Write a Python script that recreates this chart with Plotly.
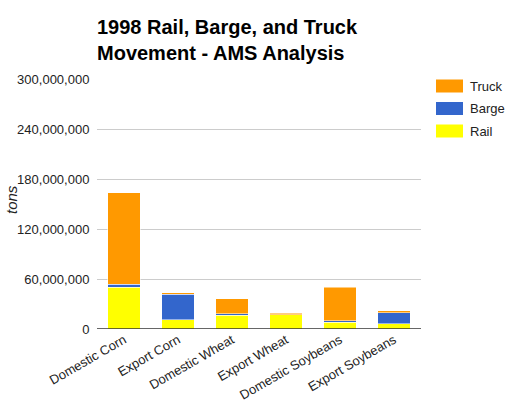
import plotly.graph_objects as go

categories = ["Domestic Corn", "Export Corn", "Domestic Wheat", "Export Wheat",
              "Domestic Soybeans", "Export Soybeans"]
rail = [50_000_000, 11_000_000, 16_500_000, 17_000_000, 8_200_000, 6_200_000]
barge = [3_500_000, 30_500_000, 1_800_000, 400_000, 2_000_000, 13_500_000]
truck = [110_000_000, 2_000_000, 18_000_000, 1_600_000, 40_000_000, 2_400_000]

series_names = ["Rail", "Barge", "Truck"]
series_colors = ["#ffff00", "#3366cc", "#ff9900"]
series_values = [rail, barge, truck]

tick_vals = [0, 60_000_000, 120_000_000, 180_000_000, 240_000_000, 300_000_000]

fig = go.Figure()
for name, color, vals in zip(series_names, series_colors, series_values):
    fig.add_trace(go.Bar(
        x=categories, y=vals, name=name,
        marker=dict(color=color, line=dict(color="white", width=0.5)),
    ))

FONT = "Liberation Sans, Arial, sans-serif"

fig.update_layout(
    barmode="stack",
    bargap=0.39,
    width=519, height=405,
    margin=dict(l=97, r=98, t=79, b=76, autoexpand=False),
    paper_bgcolor="white", plot_bgcolor="white",
    showlegend=False,
    font=dict(family=FONT, size=13, color="#222222"),
    title=dict(
        text="<b>1998 Rail, Barge, and Truck<br>Movement - AMS Analysis</b>",
        x=97 / 519, xanchor="left", xref="container",
        y=1 - 34 / 405, yanchor="top", yref="container",
        font=dict(family=FONT, size=20, color="#000000"),
    ),
    yaxis=dict(
        range=[0, 300_000_000], tickvals=tick_vals, tickformat=",d",
        showgrid=True, gridcolor="#cccccc", gridwidth=1,
        zeroline=False, showline=False,
        ticks="outside", ticklen=4, tickcolor="rgba(0,0,0,0)", automargin=False,
        tickfont=dict(size=13, color="#222222"),
    ),
    xaxis=dict(
        tickangle=-30, showline=False, ticks="", automargin=False,
        tickfont=dict(size=13, color="#222222"),
    ),
)

# y-axis title
fig.add_annotation(xref="paper", yref="paper", x=(11.5 - 97) / 324,
                   y=(329 - 199.5) / 250, text="<i>tons</i>", textangle=-90,
                   showarrow=False, xanchor="center", yanchor="middle",
                   font=dict(family=FONT, size=15, color="#222222"))

# baseline
fig.add_shape(type="line", xref="paper", yref="y", x0=0, x1=1, y0=0, y1=0,
              line=dict(color="#333333", width=1.5))

# custom legend (Truck, Barge, Rail top to bottom)
legend_items = list(zip(series_names, series_colors))[::-1]
for i, (name, color) in enumerate(legend_items):
    yc = 86 + i * 22.5
    fig.add_shape(type="rect", xref="paper", yref="paper",
                  x0=(436 - 97) / 324, x1=(463 - 97) / 324,
                  y0=(329 - (yc + 6.5)) / 250, y1=(329 - (yc - 6.5)) / 250,
                  fillcolor=color, line=dict(width=0))
    fig.add_annotation(xref="paper", yref="paper", x=(468 - 97) / 324,
                       y=(329 - yc) / 250, text=name, showarrow=False,
                       xanchor="left", yanchor="middle",
                       font=dict(family=FONT, size=13, color="#222222"))

fig.write_html("out.html", post_script="document.body.style.margin='0';",
               config={"displayModeBar": False})
